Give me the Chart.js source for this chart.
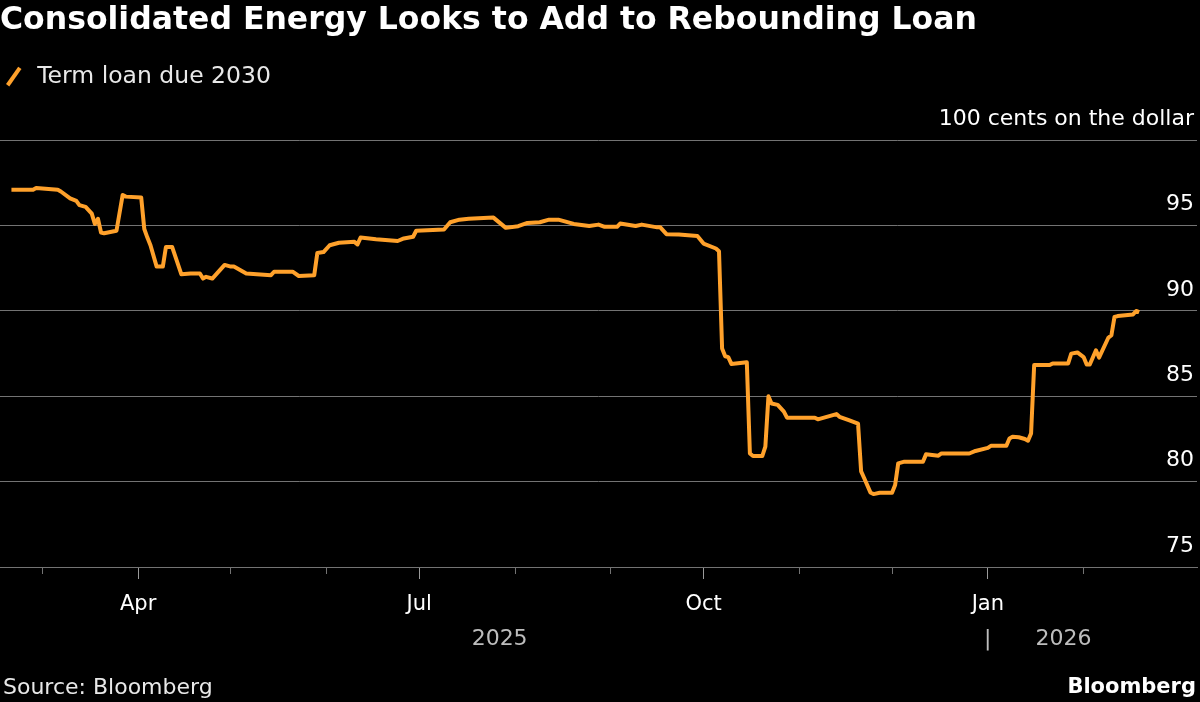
<!DOCTYPE html>
<html>
<head>
<meta charset="utf-8">
<script src="https://cdn.jsdelivr.net/npm/chart.js@4"></script>
<style>
  html, body { margin: 0; padding: 0; background: #000; }
  #wrap { position: relative; width: 1200px; height: 702px; }
</style>
</head>
<body>
<div id="wrap"><canvas id="chart"></canvas></div>
<script>
// Term loan due 2030, cents on the dollar
var dates = [
  '2025-02-19','2025-02-26','2025-02-27','2025-03-06','2025-03-07','2025-03-10','2025-03-12','2025-03-13',
  '2025-03-15','2025-03-17','2025-03-18','2025-03-19','2025-03-20','2025-03-21','2025-03-25','2025-03-27',
  '2025-03-28','2025-04-02','2025-04-03','2025-04-04','2025-04-05','2025-04-07','2025-04-09','2025-04-10',
  '2025-04-12','2025-04-15','2025-04-18','2025-04-21','2025-04-22','2025-04-23','2025-04-25','2025-04-29',
  '2025-05-01','2025-05-02','2025-05-06','2025-05-14','2025-05-15','2025-05-21','2025-05-23','2025-05-28',
  '2025-05-29','2025-05-31','2025-06-02','2025-06-05','2025-06-10','2025-06-11','2025-06-12','2025-06-17',
  '2025-06-24','2025-06-26','2025-06-29','2025-06-30','2025-07-09','2025-07-11','2025-07-14','2025-07-17',
  '2025-07-25','2025-07-29','2025-08-02','2025-08-05','2025-08-09','2025-08-12','2025-08-15','2025-08-20',
  '2025-08-25','2025-08-28','2025-08-30','2025-09-03','2025-09-04','2025-09-09','2025-09-11','2025-09-16',
  '2025-09-17','2025-09-19','2025-09-23','2025-09-29','2025-10-01','2025-10-05','2025-10-06','2025-10-07',
  '2025-10-08','2025-10-09','2025-10-10','2025-10-15','2025-10-16','2025-10-17','2025-10-20','2025-10-21',
  '2025-10-22','2025-10-23','2025-10-25','2025-10-27','2025-10-28','2025-11-06','2025-11-07','2025-11-13',
  '2025-11-14','2025-11-17','2025-11-20','2025-11-21','2025-11-22','2025-11-24','2025-11-25','2025-11-27',
  '2025-12-01','2025-12-02','2025-12-03','2025-12-05','2025-12-11','2025-12-12','2025-12-16','2025-12-17',
  '2025-12-26','2025-12-28','2026-01-01','2026-01-02','2026-01-07','2026-01-08','2026-01-09','2026-01-11',
  '2026-01-13','2026-01-14','2026-01-15','2026-01-16','2026-01-21','2026-01-22','2026-01-27','2026-01-28',
  '2026-01-30','2026-02-01','2026-02-02','2026-02-03','2026-02-05','2026-02-06','2026-02-09','2026-02-10',
  '2026-02-11','2026-02-12','2026-02-17','2026-02-18','2026-02-19'
];
var prices = [
  97.1, 97.1, 97.2, 97.1, 97.0, 96.6, 96.45, 96.2,
  96.1, 95.7, 95.1, 95.4, 94.6, 94.55, 94.7, 96.8,
  96.7, 96.65, 94.8, 94.3, 93.85, 92.6, 92.6, 93.75,
  93.75, 92.15, 92.2, 92.2, 91.9, 92.0, 91.9, 92.7,
  92.6, 92.6, 92.2, 92.1, 92.3, 92.3, 92.05, 92.1,
  93.4, 93.45, 93.85, 94.0, 94.05, 93.9, 94.3, 94.2,
  94.1, 94.25, 94.35, 94.7, 94.77, 95.2, 95.35, 95.4,
  95.47, 94.87, 94.97, 95.16, 95.2, 95.35, 95.35, 95.1,
  94.98, 95.06, 94.93, 94.93, 95.12, 94.98, 95.06, 94.9,
  94.9, 94.5, 94.48, 94.4, 93.95, 93.66, 93.5, 87.8,
  87.35, 87.3, 86.9, 87.0, 81.65, 81.5, 81.5, 82.05,
  85.0, 84.58, 84.5, 84.1, 83.75, 83.75, 83.65, 83.96,
  83.8, 83.6, 83.4, 80.6, 80.2, 79.37, 79.27, 79.35,
  79.35, 79.8, 81.07, 81.17, 81.17, 81.6, 81.52, 81.65,
  81.65, 81.8, 81.98, 82.1, 82.1, 82.53, 82.63, 82.6,
  82.5, 82.4, 82.83, 86.83, 86.83, 86.93, 86.93, 87.5,
  87.57, 87.3, 86.86, 86.86, 87.7, 87.27, 88.43, 88.58,
  89.65, 89.7, 89.8, 90.0, 89.93
];

var monthTicks = ['2025-03-01','2025-04-01','2025-05-01','2025-06-01','2025-07-01','2025-08-01',
                  '2025-09-01','2025-10-01','2025-11-01','2025-12-01','2026-01-01','2026-02-01'];
var quarterTicks = ['2025-04-01','2025-07-01','2025-10-01','2026-01-01'];
var quarterLabels = ['Apr','Jul','Oct','Jan'];
var yearLabels = ['2025','|','2026'];

var ORANGE = '#ffa12b';
var GRID = '#737373';
var FONT = "'DejaVu Sans', sans-serif";
var X_MIN = 45.3, X_MAX = 432.7;   // days since 2025-01-01

function dayNum(s) {
  var p = s.split('-').map(Number);
  return (Date.UTC(p[0], p[1] - 1, p[2]) - Date.UTC(2025, 0, 1)) / 86400000;
}

var points = dates.map(function (d, i) { return {x: dayNum(d), y: prices[i]}; });

// year labels sit in the middle of each year's share of the data, split at Jan 1
var yearStart = dayNum('2026-01-01');
var yearTicks = [
  (dayNum(dates[0]) + yearStart) / 2,
  yearStart,
  (yearStart + dayNum(dates[dates.length - 1])) / 2
];

function fixedTicks(list) {
  return function (scale) { scale.ticks = list.map(function (v) { return {value: v}; }); };
}

var footer = {
  id: 'footer',
  afterDraw: function (chart) {
    var ctx = chart.ctx;
    ctx.save();
    ctx.fillStyle = '#e8e8e8';
    ctx.textBaseline = 'middle';
    ctx.font = '22px ' + FONT;
    ctx.textAlign = 'left';
    ctx.fillText('Source: Bloomberg', 3, 688);
    ctx.font = 'bold 21px ' + FONT;
    ctx.fillStyle = '#ffffff';
    ctx.textAlign = 'right';
    ctx.fillText('Bloomberg', 1196, 688);
    ctx.restore();
  }
};

var ctx = document.getElementById('chart').getContext('2d');
var chart = new Chart(ctx, {
  type: 'line',
  data: {
    datasets: [{
      label: 'Term loan due 2030',
      data: points,
      borderColor: ORANGE,
      backgroundColor: ORANGE,
      borderWidth: 4,
      borderJoinStyle: 'round',
      pointRadius: 0,
      pointHoverRadius: 0,
      pointStyle: 'line',
      pointRotation: -55,
      tension: 0,
      fill: false
    }]
  },
  options: {
    responsive: true,
    maintainAspectRatio: false,
    animation: false,
    layout: { padding: { top: 0, bottom: 45, left: 0, right: 0 } },
    plugins: {
      title: {
        display: true,
        text: 'Consolidated Energy Looks to Add to Rebounding Loan',
        align: 'start',
        color: '#ffffff',
        font: { family: FONT, size: 31.5, weight: 'bold' },
        padding: { top: 2, bottom: 23 }
      },
      // empty spacer below the legend, room for the unit label on the y axis
      subtitle: {
        display: true,
        text: '',
        weight: 500,
        font: { size: 10 },
        padding: { top: 0, bottom: 30 }
      },
      legend: {
        display: true,
        position: 'top',
        align: 'start',
        labels: {
          usePointStyle: true,
          boxHeight: 15,
          color: '#e8e8e8',
          font: { family: FONT, size: 23.5 },
          padding: 2
        }
      },
      tooltip: { enabled: false }
    },
    scales: {
      x: {
        type: 'linear', position: 'bottom', min: X_MIN, max: X_MAX,
        afterBuildTicks: fixedTicks(monthTicks.map(dayNum)),
        afterFit: function (s) { s.height = 0; },
        ticks: { display: false, autoSkip: false },
        grid: { drawOnChartArea: false, drawTicks: true, tickLength: 7, tickColor: GRID, lineWidth: 1 },
        border: { color: GRID, width: 1 }
      },
      xq: {
        type: 'linear', position: 'bottom', min: X_MIN, max: X_MAX,
        afterBuildTicks: fixedTicks(quarterTicks.map(dayNum)),
        afterFit: function (s) { s.height = 50; },
        ticks: {
          autoSkip: false, maxRotation: 0, padding: 13, color: '#ffffff',
          font: { family: FONT, size: 21 },
          callback: function (v, i) { return quarterLabels[i]; }
        },
        grid: { drawOnChartArea: false, drawTicks: true, tickLength: 12, tickColor: '#9a9a9a' },
        border: { display: false }
      },
      xy: {
        type: 'linear', position: 'bottom', min: X_MIN, max: X_MAX,
        afterBuildTicks: fixedTicks(yearTicks),
        afterFit: function (s) { s.height = 40; },
        ticks: {
          autoSkip: false, maxRotation: 0, padding: 1, color: '#bdbdbd',
          font: { family: FONT, size: 22 },
          callback: function (v, i) { return yearLabels[i]; }
        },
        grid: { display: false },
        border: { display: false }
      },
      y: {
        position: 'right', min: 75, max: 100,
        afterFit: function (s) { s.width = 3; },
        ticks: {
          stepSize: 5, mirror: true, labelOffset: -21, padding: -3,
          color: '#ffffff', font: { family: FONT, size: 22 },
          callback: function (v) { return v === 100 ? '100 cents on the dollar' : v; }
        },
        grid: { color: GRID, lineWidth: 1, drawTicks: false },
        border: { display: false }
      }
    }
  },
  plugins: [footer]
});
</script>
</body>
</html>
